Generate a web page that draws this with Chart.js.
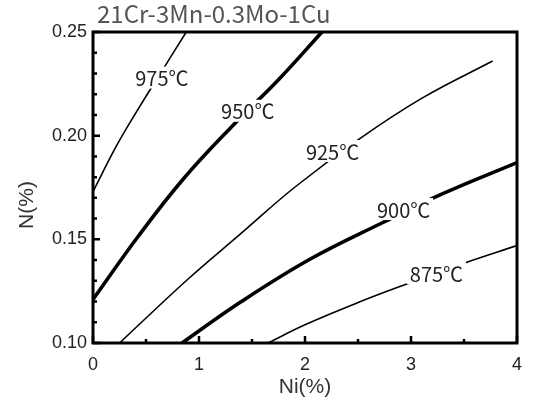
<!DOCTYPE html>
<html>
<head>
<meta charset="utf-8">
<script src="https://cdn.jsdelivr.net/npm/chart.js@4.4.0/dist/chart.umd.min.js"></script>
<style>
  html, body { margin: 0; padding: 0; background: #fff; }
  #wrap { width: 536px; height: 409px; }
</style>
</head>
<body>
<div id="wrap"><canvas id="chart"></canvas></div>
<script>
// Chart data
const TITLE = '21Cr-3Mn-0.3Mo-1Cu';
const X_TITLE = 'Ni(%)';
const Y_TITLE = 'N(%)';

const TEMPS = ['975℃', '950℃', '925℃', '900℃', '875℃'];
const NI_975 = [0, 0.22, 0.44, 0.66, 0.88];
const N_975  = [0.173, 0.195, 0.214, 0.232, 0.25];
const NI_950 = [0, 0.42, 0.85, 1.34, 1.75, 2.16];
const N_950  = [0.121, 0.151, 0.179, 0.206, 0.227, 0.25];
const NI_925 = [0.25, 0.9, 1.4, 1.9, 2.5, 3.1, 3.77];
const N_925  = [0.100, 0.131, 0.153, 0.175, 0.198, 0.218, 0.236];
const NI_900 = [0.84, 1.4, 2.05, 2.73, 3.3, 4];
const N_900  = [0.100, 0.120, 0.1405, 0.158, 0.172, 0.187];
const NI_875 = [1.65, 2.0, 2.5, 3.0, 3.5, 4];
const N_875  = [0.100, 0.1088, 0.1195, 0.1292, 0.1385, 0.147];

// where the temperature labels sit on each curve
const LABEL_NI = [0.65, 1.46, 2.26, 2.93, 3.24];
const LABEL_N  = [0.228, 0.212, 0.1926, 0.1646, 0.1337];
const THICK = [false, true, false, true, false];

const CURVES = [[NI_975, N_975], [NI_950, N_950], [NI_925, N_925], [NI_900, N_900], [NI_875, N_875]];

const zip = (xs, ys) => xs.map((x, i) => ({ x, y: ys[i] }));

const datasets = CURVES.map(([xs, ys], i) => ({
  label: TEMPS[i],
  data: zip(xs, ys),
  borderColor: '#000',
  borderWidth: THICK[i] ? 3.6 : 1.6,
  pointRadius: 0,
  tension: 0.4,
  fill: false
}));

// frame, inward ticks, titles and curve labels
const decorPlugin = {
  id: 'decor',
  afterDatasetsDraw(chart) {
    const { ctx, chartArea: a, scales: { x, y } } = chart;
    ctx.save();

    // curve labels with a white gap behind them
    ctx.font = '20px "Noto Sans CJK JP", sans-serif';
    ctx.textAlign = 'center';
    ctx.textBaseline = 'middle';
    TEMPS.forEach((t, i) => {
      const px = x.getPixelForValue(LABEL_NI[i]);
      const py = y.getPixelForValue(LABEL_N[i]);
      const w = ctx.measureText(t).width;
      ctx.fillStyle = '#fff';
      ctx.fillRect(px - w / 2 - 3, py - 11, w + 6, 22);
      ctx.fillStyle = '#222';
      ctx.fillText(t, px, py + 1);
    });

    // inward ticks
    ctx.strokeStyle = '#000';
    ctx.lineWidth = 2.5;
    ctx.beginPath();
    for (let k = 0; k <= 8; k++) {
      const px = x.getPixelForValue(k * 0.5);
      const len = k % 2 === 0 ? 7 : 4;
      ctx.moveTo(px, a.bottom);
      ctx.lineTo(px, a.bottom - len);
    }
    for (let k = 10; k <= 25; k++) {
      const py = y.getPixelForValue(k / 100);
      const len = k % 5 === 0 ? 7 : 4;
      ctx.moveTo(a.left, py);
      ctx.lineTo(a.left + len, py);
    }
    ctx.stroke();

    // frame
    ctx.lineWidth = 3;
    ctx.strokeRect(a.left, a.top, a.right - a.left, a.bottom - a.top);

    // title
    ctx.fillStyle = '#555';
    ctx.font = '24px "Noto Sans CJK JP", sans-serif';
    ctx.textAlign = 'left';
    ctx.textBaseline = 'middle';
    ctx.fillText(TITLE, a.left + 4, 14);

    // y title
    ctx.fillStyle = '#333';
    ctx.font = '21px "Liberation Sans", sans-serif';
    ctx.translate(27, 205);
    ctx.rotate(-Math.PI / 2);
    ctx.textAlign = 'center';
    ctx.fillText(Y_TITLE, 0, 0);
    ctx.restore();
  }
};

new Chart(document.getElementById('chart'), {
  type: 'line',
  data: { datasets },
  plugins: [decorPlugin],
  options: {
    responsive: true,
    maintainAspectRatio: false,
    animation: false,
    layout: { padding: { left: 0, right: 19, top: 32, bottom: 0 } },
    plugins: { legend: { display: false }, tooltip: { enabled: false } },
    scales: {
      x: {
        type: 'linear', min: 0, max: 4,
        grid: { display: false, drawTicks: false },
        border: { display: false },
        ticks: { stepSize: 1, padding: 11, color: '#222', font: { family: 'Liberation Sans', size: 18 } },
        title: { display: true, text: X_TITLE, color: '#333', padding: { bottom: 9 }, font: { family: 'Liberation Sans', size: 21 } },
        afterFit: s => { s.height = 66; }
      },
      y: {
        type: 'linear', min: 0.10, max: 0.25,
        grid: { display: false, drawTicks: false },
        border: { display: false },
        ticks: { stepSize: 0.05, padding: 6, color: '#222', font: { family: 'Liberation Sans', size: 18 },
                 callback: v => v.toFixed(2) },
        afterFit: s => { s.width = 93; }
      }
    }
  }
});
</script>
</body>
</html>
